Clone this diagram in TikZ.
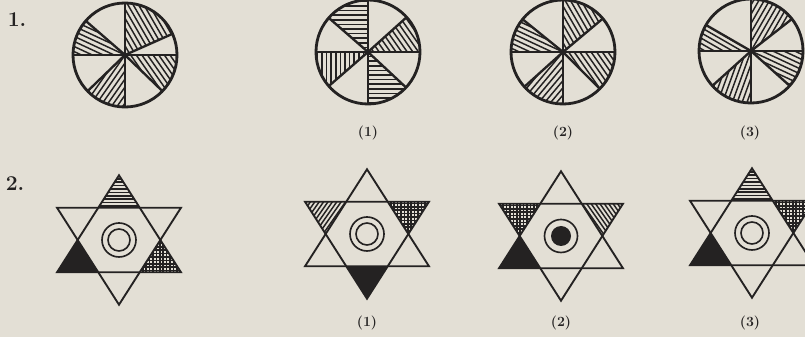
\documentclass[tikz,border=0pt]{standalone}
\usepackage{tikz}
\usetikzlibrary{positioning}
\definecolor{paper}{RGB}{227,223,213}
\definecolor{ink}{RGB}{36,34,34}
\tikzset{
  rim/.style={draw=ink,line width=2.4pt},
  spoke/.style={draw=ink,line width=2pt},
  hatchline/.style={draw=ink,line width=1.25pt},
  gridline/.style={draw=ink,line width=1.5pt},
  starline/.style={draw=ink,line width=1.6pt,line join=miter},
  ringline/.style={draw=ink,line width=1.4pt},
  answer/.style={font=\fontsize{12}{14}\selectfont\bfseries,text=ink},
  qnum/.style={font=\fontsize{18}{22}\selectfont\bfseries,text=ink},
}
\newcommand{\Rad}{52}
% sector of the wheel: start angle, end angle, angle of the hatching
\newcommand{\hatchsector}[3]{%
  \begin{scope}
    \clip (0,0) -- (#1:\Rad) arc[start angle=#1,end angle=#2,radius=\Rad] -- cycle;
    \foreach \k in {-13,...,13}
      \draw[hatchline,rotate=#3] (-70,\k*4.6) -- (70,\k*4.6);
  \end{scope}}
\newcommand{\spokes}[1]{%
  \foreach \a in {#1} \draw[spoke] (0,0) -- (\a:\Rad);
  \draw[rim] (0,0) circle (\Rad);}
% star corners, centroid at the origin
\newcommand{\starpoints}{%
  \coordinate (ut) at (0,64.7);    \coordinate (ul) at (-62,-32.3);
  \coordinate (ur) at (62,-32.3);  \coordinate (dt) at (0,-64.7);
  \coordinate (dl) at (-62,32.3);  \coordinate (dr) at (62,32.3);
  \coordinate (h1) at (-20.7,32.3); \coordinate (h2) at (20.7,32.3);
  \coordinate (h3) at (41.3,0);     \coordinate (h4) at (20.7,-32.3);
  \coordinate (h5) at (-20.7,-32.3); \coordinate (h6) at (-41.3,0);}
% lines in one tip: three corners, angle, spacing
\newcommand{\tiplines}[5]{%
  \begin{scope}
    \clip (#1) -- (#2) -- (#3) -- cycle;
    \foreach \k in {-25,...,25}
      \draw[hatchline,rotate=#4] (-80,\k*#5) -- (80,\k*#5);
  \end{scope}}
\newcommand{\tipgrid}[3]{%
  \begin{scope}
    \clip (#1) -- (#2) -- (#3) -- cycle;
    \foreach \k in {-25,...,25} {
      \draw[gridline] (-80,\k*3.4) -- (80,\k*3.4);
      \draw[gridline] (\k*3.4,-80) -- (\k*3.4,80);
    }
  \end{scope}}
\newcommand{\staroutline}{%
  \draw[starline] (ut) -- (ul) -- (ur) -- cycle;
  \draw[starline] (dt) -- (dl) -- (dr) -- cycle;}

\begin{document}
\begin{tikzpicture}[x=0.03cm,y=0.03cm]
  \fill[paper] (0,0) rectangle (805,337);
  \useasboundingbox (0,0) rectangle (805,337);
  \node[qnum] (q1) at (17,317) {1.};
  \node[qnum] (q2) at (15,153) {2.};
  % --- row 1: wheels ---
  \begin{scope}[shift={(125,282)}]
    \hatchsector{24}{90}{-60}
    \hatchsector{316}{360}{-55}
    \hatchsector{224}{270}{55}
    \hatchsector{139}{180}{-25}
    \spokes{0,24,90,139,180,224,270,316}
  \end{scope}
  \begin{scope}[shift={(368,285)}]
    \hatchsector{90}{139}{0}
    \hatchsector{180}{221}{90}
    \hatchsector{270}{317}{0}
    \hatchsector{0}{42}{-55}
    \spokes{0,42,90,139,180,221,270,317}
  \end{scope}
  \begin{scope}[shift={(563,285)}]
    \hatchsector{141}{180}{-25}
    \hatchsector{40}{90}{-60}
    \hatchsector{315}{360}{-55}
    \hatchsector{222}{270}{50}
    \spokes{0,40,90,141,180,222,270,315}
  \end{scope}
  \begin{scope}[shift={(751,286)}]
    \hatchsector{150}{180}{-30}
    \hatchsector{38}{90}{60}
    \hatchsector{318}{360}{-25}
    \hatchsector{222}{270}{70}
    \spokes{0,38,90,150,180,222,270,318}
  \end{scope}
  \node[answer] (a1) at (368,204) {(1)};
  \node[answer] (a2) at (563,204) {(2)};
  \node[answer] (a3) at (750,204) {(3)};
  % --- row 2: stars ---
  \begin{scope}[shift={(119,97)}]
    \starpoints
    \tiplines{ut}{h1}{h2}{0}{3.4}
    \fill[ink] (ul) -- (h5) -- (h6) -- cycle;
    \tipgrid{ur}{h4}{h3}
    \staroutline
    \draw[ringline] (0,0) circle (17) (0,0) circle (11);
  \end{scope}
  \begin{scope}[shift={(367,103)}]
    \starpoints
    \tiplines{dl}{h1}{h6}{55}{3.6}
    \tipgrid{dr}{h2}{h3}
    \fill[ink] (dt) -- (h4) -- (h5) -- cycle;
    \staroutline
    \draw[ringline] (0,0) circle (17) (0,0) circle (11);
  \end{scope}
  \begin{scope}[shift={(561,101)}]
    \starpoints
    \tipgrid{dl}{h1}{h6}
    \tiplines{dr}{h2}{h3}{-55}{3.6}
    \fill[ink] (ul) -- (h5) -- (h6) -- cycle;
    \staroutline
    \draw[ringline] (0,0) circle (16.5);
    \fill[ink] (0,0) circle (10);
  \end{scope}
  \begin{scope}[shift={(752,104)}]
    \starpoints
    \tiplines{ut}{h1}{h2}{0}{3.4}
    \tipgrid{dr}{h2}{h3}
    \fill[ink] (ul) -- (h5) -- (h6) -- cycle;
    \staroutline
    \draw[ringline] (0,0) circle (17) (0,0) circle (11);
  \end{scope}
  \node[answer] (b1) at (367,14) {(1)};
  \node[answer] (b2) at (561,14) {(2)};
  \node[answer] (b3) at (750,14) {(3)};
\end{tikzpicture}
\end{document}
